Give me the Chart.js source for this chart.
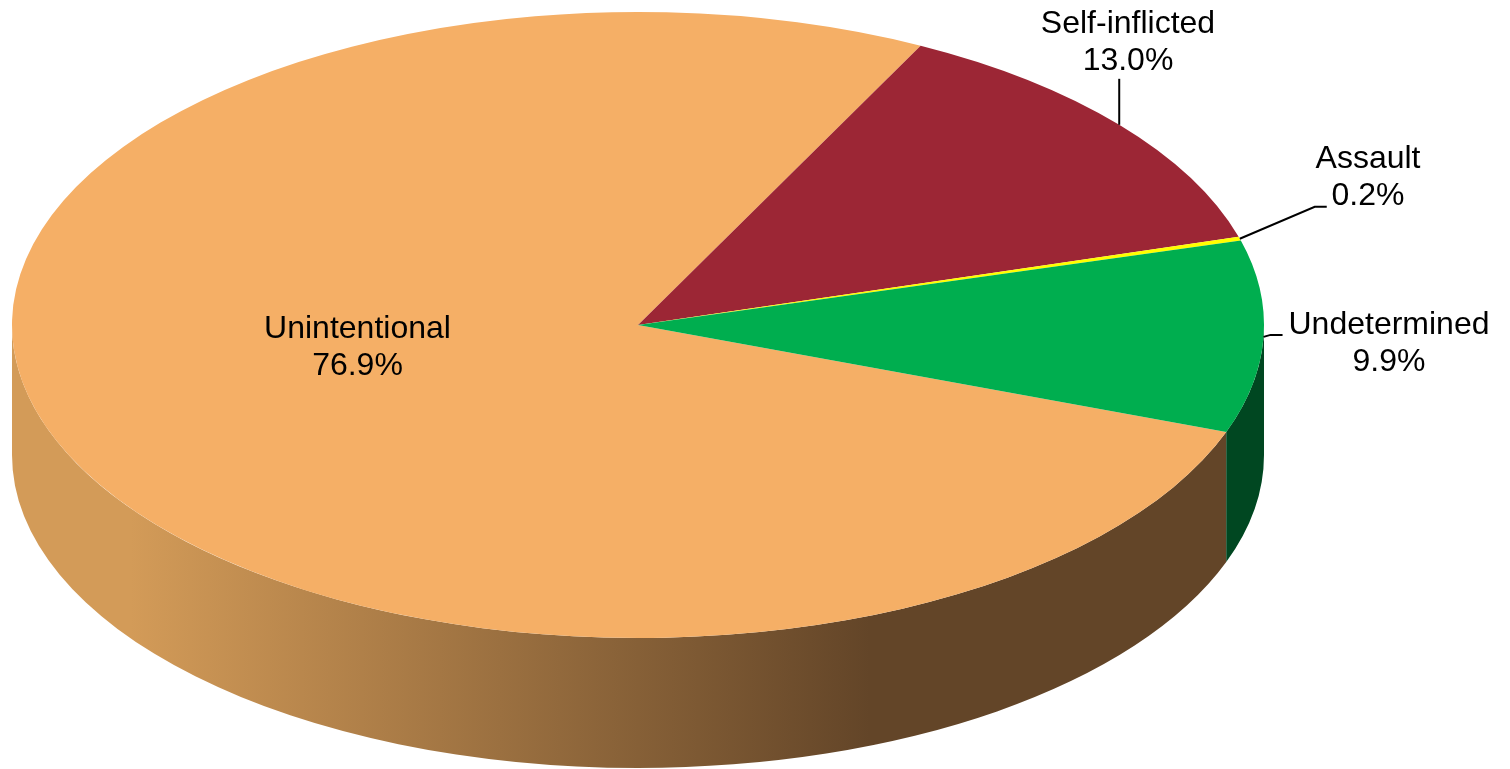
<!DOCTYPE html>
<html>
<head>
<meta charset="utf-8">
<title>Pie chart</title>
<style>
    html, body { margin: 0; padding: 0; background: #fff; overflow: hidden; }
    canvas { display: block; }
</style>
<script src="https://cdn.jsdelivr.net/npm/chart.js@4/dist/chart.umd.js"></script>
</head>
<body>
<canvas id="pie" width="1510" height="769"></canvas>
<script>
// chart data
const categories = ['Unintentional', 'Self-inflicted', 'Assault', 'Undetermined'];
const shares = [76.9, 13.0, 0.2, 9.9];

const topColors = ['#f5af66', '#9c2635', '#ffff00', '#00ae4f'];
const wallColors = [null, '#5e1620', '#999900', '#004721'];

// tilted disc placement on the page
const disc = { cx: 638, cy: 325, rx: 626, ry: 313, depth: 130 };
const font = '32px "Liberation Sans", Arial, sans-serif';

// label centres, and the leader line elbows relative to the slice rim
const labelSpots = [
    { x: 357.5, y: 329 },
    { x: 1128, y: 24 },
    { x: 1368, y: 159 },
    { x: 1389, y: 325 }
];
const leaders = [
    null,
    [[0, -46]],
    [[75, -32], [87, -32]],
    [[7, -2], [19, -2]]
];

function drawWall(ctx, arc, color) {
    const { cx, cy, rx, ry, depth } = disc;
    // only the front half of the rim can be seen
    for (const turn of [-2 * Math.PI, 0, 2 * Math.PI]) {
        const a0 = Math.max(arc.startAngle + turn, 0);
        const a1 = Math.min(arc.endAngle + turn, Math.PI);
        if (a1 <= a0) continue;
        ctx.beginPath();
        ctx.ellipse(cx, cy, rx, ry, 0, a0, a1);
        ctx.ellipse(cx, cy + depth, rx, ry, 0, a1, a0, true);
        ctx.closePath();
        ctx.fillStyle = color;
        ctx.fill();
    }
}

const tiltedPie = {
    id: 'tiltedPie',
    beforeDatasetsDraw(chart) {
        const ctx = chart.ctx;
        const arcs = chart.getDatasetMeta(0).data;

        const shade = ctx.createLinearGradient(130, 0, 870, 0);
        shade.addColorStop(0, '#d39b58');
        shade.addColorStop(1, '#634528');
        arcs.forEach((arc, i) => drawWall(ctx, arc, wallColors[i] || shade));

        // squash the round pie into the top face
        const first = arcs[0];
        ctx.save();
        ctx.translate(disc.cx, disc.cy);
        ctx.scale(disc.rx / first.outerRadius, disc.ry / first.outerRadius);
        ctx.translate(-first.x, -first.y);
    },
    afterDatasetsDraw(chart) {
        chart.ctx.restore();
    },
    afterDraw(chart) {
        const ctx = chart.ctx;
        const arcs = chart.getDatasetMeta(0).data;
        ctx.save();
        ctx.strokeStyle = '#000';
        ctx.lineWidth = 2;
        arcs.forEach((arc, i) => {
            if (!leaders[i]) return;
            const mid = (arc.startAngle + arc.endAngle) / 2;
            const x = disc.cx + disc.rx * Math.cos(mid);
            const y = disc.cy + disc.ry * Math.sin(mid);
            ctx.beginPath();
            ctx.moveTo(x, y);
            leaders[i].forEach(p => ctx.lineTo(x + p[0], y + p[1]));
            ctx.stroke();
        });
        ctx.fillStyle = '#000';
        ctx.font = font;
        ctx.textAlign = 'center';
        ctx.textBaseline = 'middle';
        categories.forEach((name, i) => {
            ctx.fillText(name, labelSpots[i].x, labelSpots[i].y);
            ctx.fillText(shares[i].toFixed(1) + '%', labelSpots[i].x, labelSpots[i].y + 37);
        });
        ctx.restore();
    }
};

new Chart(document.getElementById('pie'), {
    type: 'pie',
    data: {
        labels: categories,
        datasets: [{
            data: shares,
            backgroundColor: topColors,
            borderWidth: 0
        }]
    },
    options: {
        responsive: false,
        animation: false,
        events: [],
        rotation: 110.0,
        plugins: {
            legend: { display: false },
            tooltip: { enabled: false }
        }
    },
    plugins: [tiltedPie]
});
</script>
</body>
</html>
